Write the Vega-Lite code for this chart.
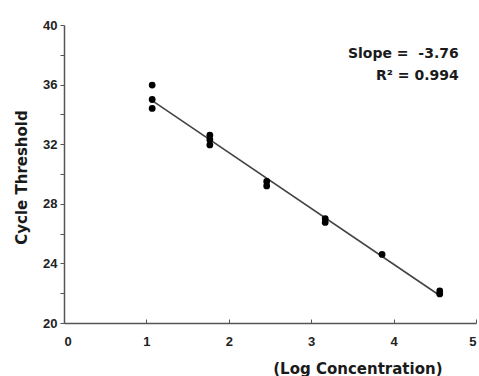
{
  "$schema": "https://vega.github.io/schema/vega-lite/v6.json",
  "width": 412,
  "height": 298,
  "autosize": "none",
  "padding": {"left": 64, "top": 25, "right": 3, "bottom": 53},
  "background": "white",
  "config": {"view": {"stroke": null}, "font": "Liberation Sans"},
  "data": {"values": [
    {"logc": 1.07, "ct": 35.97},
    {"logc": 1.07, "ct": 35.0},
    {"logc": 1.07, "ct": 34.4},
    {"logc": 1.77, "ct": 32.6},
    {"logc": 1.77, "ct": 32.3},
    {"logc": 1.77, "ct": 31.95},
    {"logc": 2.46, "ct": 29.5},
    {"logc": 2.46, "ct": 29.2},
    {"logc": 3.17, "ct": 27.0},
    {"logc": 3.17, "ct": 26.75},
    {"logc": 3.86, "ct": 24.6},
    {"logc": 4.56, "ct": 22.15},
    {"logc": 4.56, "ct": 21.95}
  ]},
  "encoding": {
    "x": {
      "field": "logc", "type": "quantitative",
      "scale": {"domain": [0, 5], "nice": false},
      "axis": {
        "title": "(Log Concentration)",
        "values": [0, 1, 2, 3, 4, 5],
        "format": "d",
        "grid": false,
        "domainColor": "#555555",
        "domainWidth": 1.5,
        "tickColor": "#555555",
        "tickSize": -4,
        "labelPadding": 16,
        "labelFont": "Liberation Sans",
        "labelFontWeight": "bold",
        "labelFontSize": 13,
        "labelColor": "#222222",
        "titleFont": "DejaVu Sans",
        "titleFontWeight": "bold",
        "titleFontSize": 15,
        "titleColor": "#1a1a1a",
        "titleAnchor": "end",
        "titleAlign": "right",
        "titleX": 378,
        "titleY": 45,
        "titleBaseline": "middle"
      }
    },
    "y": {
      "field": "ct", "type": "quantitative",
      "scale": {"domain": [20, 40], "nice": false},
      "axis": {
        "title": "Cycle Threshold",
        "values": [20, 22, 24, 26, 28, 30, 32, 34, 36, 38, 40],
        "labelExpr": "datum.value % 4 == 0 ? datum.label : ''",
        "grid": false,
        "domainColor": "#555555",
        "domainWidth": 1.5,
        "tickColor": "#555555",
        "tickSize": 4,
        "labelPadding": 3,
        "labelFont": "Liberation Sans",
        "labelFontWeight": "bold",
        "labelFontSize": 13,
        "labelColor": "#222222",
        "titleFont": "DejaVu Sans",
        "titleFontWeight": "bold",
        "titleFontSize": 15,
        "titleColor": "#1a1a1a",
        "titleX": -43,
        "titleY": 152,
        "titleAlign": "center",
        "titleBaseline": "middle"
      }
    }
  },
  "layer": [
    {
      "transform": [{"regression": "ct", "on": "logc"}],
      "mark": {"type": "line", "color": "#444444", "strokeWidth": 1.6}
    },
    {
      "mark": {"type": "circle", "color": "black", "opacity": 1, "size": 46}
    },
    {
      "data": {"values": [
        {"logc": 4.79, "ct": 38.05, "t": "Slope =\u00a0 -3.76"},
        {"logc": 4.79, "ct": 36.6, "t": "R² = 0.994"}
      ]},
      "mark": {"type": "text", "align": "right", "baseline": "middle", "font": "DejaVu Sans", "fontWeight": "bold", "fontSize": 14, "color": "#1a1a1a"},
      "encoding": {
        "text": {"field": "t"}
      }
    }
  ]
}
